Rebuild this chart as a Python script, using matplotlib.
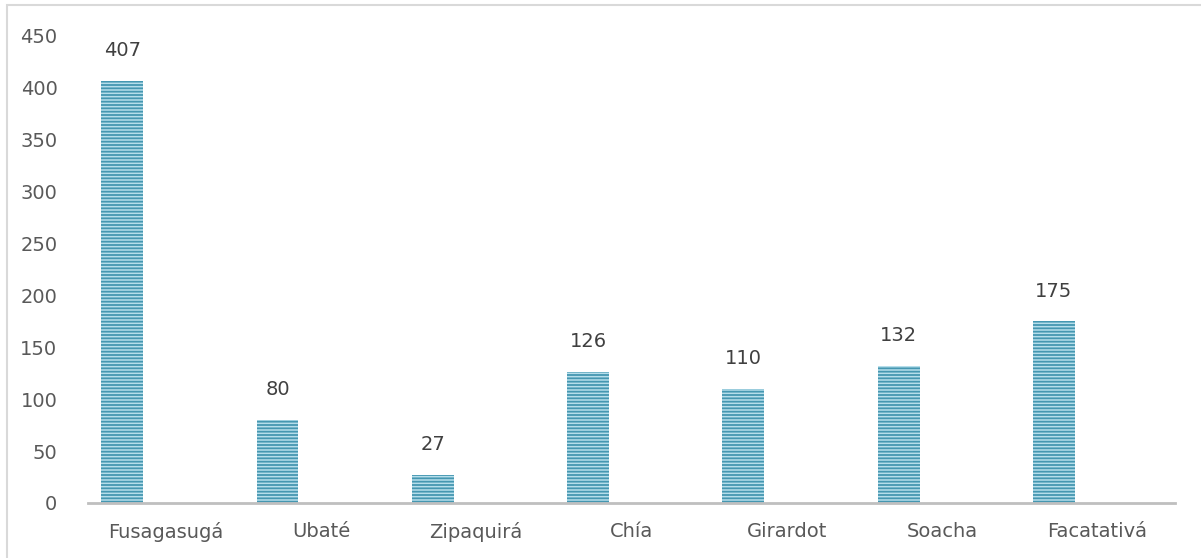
import matplotlib
matplotlib.use('Agg')
import matplotlib.pyplot as plt
from matplotlib.patches import Rectangle

# Data
municipios = ['Fusagasugá', 'Ubaté', 'Zipaquirá', 'Chía', 'Girardot', 'Soacha', 'Facatativá']
valores = [407, 80, 27, 126, 110, 132, 175]

plt.rcParams['font.family'] = ['DejaVu Sans']
plt.rcParams['hatch.linewidth'] = 1.3

fig = plt.figure(figsize=(12.01, 5.58), dpi=100)
ax = fig.add_axes([0.0733, 0.0986, 0.905, 0.8369])

# outer light border (left and top visible)
fig.patches.append(Rectangle((7 / 1201, -0.1), 1.2, 1.1 - 5 / 558,
                             transform=fig.transFigure, fill=False,
                             edgecolor='#d9d9d9', linewidth=1.5))

x = list(range(len(municipios)))
pos = [i - 0.28 for i in x]
bars = ax.bar(pos, valores, width=0.27, color='#b6deeb', edgecolor='#4597b1',
              hatch='-' * 5, linewidth=0)

for p, v in zip(pos, valores):
    ax.text(p, v + 20, str(v), ha='center', va='bottom', fontsize=14, color='#404040')

ax.set_xlim(-0.5, 6.5)
ax.set_ylim(0, 450)
ax.set_yticks(range(0, 451, 50))
ax.set_xticks(x)
ax.set_xticklabels(municipios)
ax.tick_params(axis='both', length=0, labelsize=14, labelcolor='#595959')
ax.tick_params(axis='x', pad=14)
ax.tick_params(axis='y', pad=22)

for s in ['top', 'right', 'left']:
    ax.spines[s].set_visible(False)
ax.spines['bottom'].set_color('#bfbfbf')
ax.spines['bottom'].set_linewidth(2)

fig.savefig('out.png', dpi=100)
